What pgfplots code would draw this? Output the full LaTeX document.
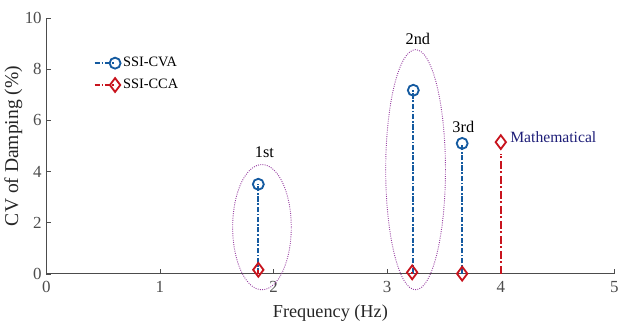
\documentclass[border=0pt]{standalone}
\usepackage{pgfplots}
\pgfplotsset{compat=1.18}
\usepackage{fontspec}
\setmainfont{Liberation Serif}
\definecolor{cva}{RGB}{20,90,160}
\definecolor{cca}{RGB}{200,20,30}
\definecolor{ell}{RGB}{150,60,160}
\definecolor{math}{RGB}{30,30,120}
\begin{document}
\begin{tikzpicture}
\begin{axis}[
  scale only axis,
  width=436pt, height=196pt,
  xmin=0, xmax=5, ymin=0, ymax=10,
  xtick={0,1,2,3,4,5}, ytick={0,2,4,6,8,10},
  axis x line*=bottom, axis y line*=left,
  axis line style={black!70, line width=0.6pt},
  tick align=inside, major tick length=3.5pt,
  tick style={black!70},
  /pgf/number format/assume math mode=true,
  ticklabel style={font=\fontsize{13}{14}\selectfont, text=black!70},
  xticklabel style={yshift=-2.5pt},
  xlabel={Frequency (Hz)}, ylabel={CV of Damping (\%)},
  xlabel style={font=\fontsize{14}{15}\selectfont, text=black!85, yshift=-2pt},
  ylabel style={font=\fontsize{15}{16}\selectfont, text=black!85, yshift=-5pt},
  clip=false,
  legend style={draw=none, fill=none, at={(0.076,0.868)}, anchor=north west,
    font=\fontsize{11}{12}\selectfont, row sep=4pt},
  legend cell align=left,
  legend image code/.code={
    \draw[#1, mark=none] (0cm,0cm) -- (0.55cm,0cm);
    \draw[#1, solid] plot coordinates {(0.55cm,0cm)};
  },
]
\addplot[ycomb, cva, line width=1.6pt, dash pattern=on 4pt off 1.3pt on 1.3pt off 1.3pt,
  mark=o, mark size=4.2pt, mark options={solid, line width=1.4pt}]
  coordinates {(1.866,3.5) (3.23,7.18) (3.66,5.1)};
\addlegendentry{SSI-CVA}
\addplot[ycomb, cca, line width=1.6pt, dash pattern=on 4pt off 1.3pt on 1.3pt off 1.3pt,
  mark=diamond, mark size=5.3pt, mark options={solid, line width=1.4pt}]
  coordinates {(1.866,0.15) (3.22,0.05) (3.66,0.0)};
\addlegendentry{SSI-CCA}
\addplot[ycomb, cca, line width=1.6pt, dash pattern=on 6pt off 2pt on 1.5pt off 2pt,
  mark=none, forget plot] coordinates {(4.0,4.7)};
\addplot[only marks, cca, mark=diamond, mark size=5.3pt, mark options={solid, line width=1.4pt},
  forget plot] coordinates {(4.0,5.15)};
\draw[ell, densely dotted, line width=0.7pt] (axis cs:1.898,1.82) ellipse [x radius=0.258, y radius=2.45];
\draw[ell, densely dotted, line width=0.7pt] (axis cs:3.25,4.07) ellipse [x radius=0.263, y radius=4.7];
\node[font=\fontsize{12.5}{13}\selectfont] at (axis cs:1.92,4.75) {1st};
\node[font=\fontsize{12.5}{13}\selectfont] at (axis cs:3.27,9.2) {2nd};
\node[font=\fontsize{12.5}{13}\selectfont] at (axis cs:3.67,5.75) {3rd};
\node[font=\fontsize{12}{13}\selectfont, text=math, anchor=west, inner sep=1pt] at (axis cs:4.07,5.35) {Mathematical};
\path (rel axis cs:0,1) ++(0,14pt);
\path (rel axis cs:0,0) ++(0,-38.5pt);
\end{axis}
\end{tikzpicture}
\end{document}
